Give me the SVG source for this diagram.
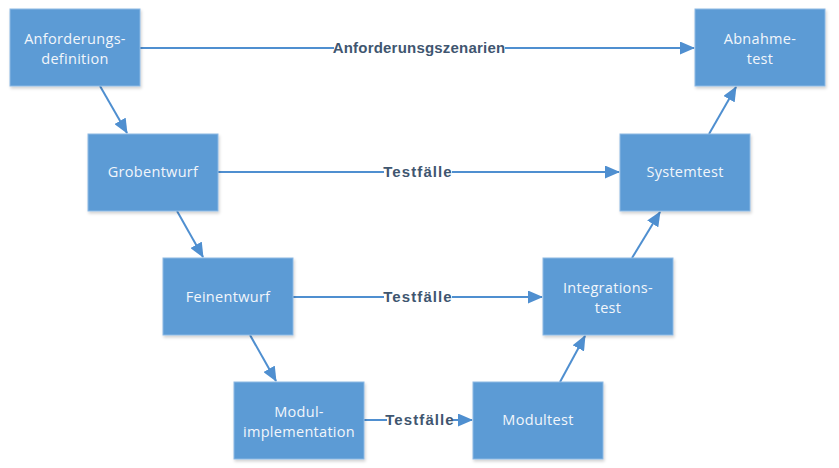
<svg xmlns="http://www.w3.org/2000/svg" width="839" height="468" viewBox="0 0 839 468">
<style>
.box{fill:#5B9BD5;stroke:#8DB9E4;stroke-width:1;filter:url(#sh)}
.t{font-family:"Open Sans","Liberation Sans",sans-serif;font-size:14.5px;fill:#F2F6FB;text-anchor:middle;letter-spacing:0.3px}
.c{stroke:#4F8FD0;stroke-width:2;fill:none}
.l{font-family:"Liberation Sans",Arial,sans-serif;font-size:15px;font-weight:bold;fill:#3F5670;text-anchor:middle}
.tf{letter-spacing:1.1px}
.az{letter-spacing:0.2px}
.lb{fill:#FFFFFF}
</style>
<defs>
<filter id="sh" x="-10%" y="-10%" width="125%" height="130%">
<feDropShadow dx="1" dy="2" stdDeviation="1.5" flood-color="#000" flood-opacity="0.18"/>
</filter>
<marker id="ah" viewBox="0 0 15 13" refX="14" refY="6.5" markerWidth="7.5" markerHeight="6.5" orient="auto" markerUnits="strokeWidth">
<path d="M0,0 L15,6.5 L0,13 z" fill="#4F8FD0"/>
</marker>
</defs>
<rect width="839" height="468" fill="#FFFFFF"/>
<g id="connectors">
<line class="c" x1="100" y1="86" x2="127" y2="133" marker-end="url(#ah)"/>
<line class="c" x1="177" y1="211" x2="203" y2="257" marker-end="url(#ah)"/>
<line class="c" x1="250" y1="335" x2="276" y2="381" marker-end="url(#ah)"/>
<line class="c" x1="560" y1="382" x2="585" y2="336" marker-end="url(#ah)"/>
<line class="c" x1="632" y1="258" x2="660" y2="212" marker-end="url(#ah)"/>
<line class="c" x1="709" y1="134" x2="736" y2="87" marker-end="url(#ah)"/>
<line class="c" x1="140" y1="48" x2="694" y2="48" marker-end="url(#ah)"/>
<line class="c" x1="218" y1="172" x2="619" y2="172" marker-end="url(#ah)"/>
<line class="c" x1="293" y1="297" x2="542" y2="297" marker-end="url(#ah)"/>
<line class="c" x1="364" y1="420" x2="472" y2="420" marker-end="url(#ah)"/>
<rect class="lb" x="334" y="40" width="171" height="16"/>
<rect class="lb" x="384" y="164" width="68" height="16"/>
<rect class="lb" x="384" y="289" width="68" height="16"/>
<rect class="lb" x="387" y="412" width="65" height="16"/>
<text class="l az" x="419" y="53">Anforderunsgszenarien</text>
<text class="l tf" x="418" y="177">Testfälle</text>
<text class="l tf" x="418" y="302">Testfälle</text>
<text class="l tf" x="420" y="425">Testfälle</text>
</g>
<g id="anforderungsdefinition">
<rect class="box" x="10" y="9" width="130" height="77"/>
<text class="t" x="75" y="44">Anforderungs-</text>
<text class="t" x="75" y="64">definition</text>
</g>
<g id="grobentwurf">
<rect class="box" x="88" y="134" width="130" height="77"/>
<text class="t" x="153" y="177">Grobentwurf</text>
</g>
<g id="feinentwurf">
<rect class="box" x="163" y="258" width="130" height="77"/>
<text class="t" x="228" y="302">Feinentwurf</text>
</g>
<g id="modulimplementation">
<rect class="box" x="234" y="382" width="130" height="77"/>
<text class="t" x="299" y="417">Modul-</text>
<text class="t" x="299" y="437">implementation</text>
</g>
<g id="modultest">
<rect class="box" x="473" y="382" width="130" height="77"/>
<text class="t" x="538" y="425">Modultest</text>
</g>
<g id="integrationstest">
<rect class="box" x="543" y="258" width="130" height="77"/>
<text class="t" x="608" y="293">Integrations-</text>
<text class="t" x="608" y="313">test</text>
</g>
<g id="systemtest">
<rect class="box" x="620" y="134" width="130" height="77"/>
<text class="t" x="685" y="177">Systemtest</text>
</g>
<g id="abnahmetest">
<rect class="box" x="695" y="9" width="130" height="77"/>
<text class="t" x="760" y="44">Abnahme-</text>
<text class="t" x="760" y="64">test</text>
</g>
</svg>
